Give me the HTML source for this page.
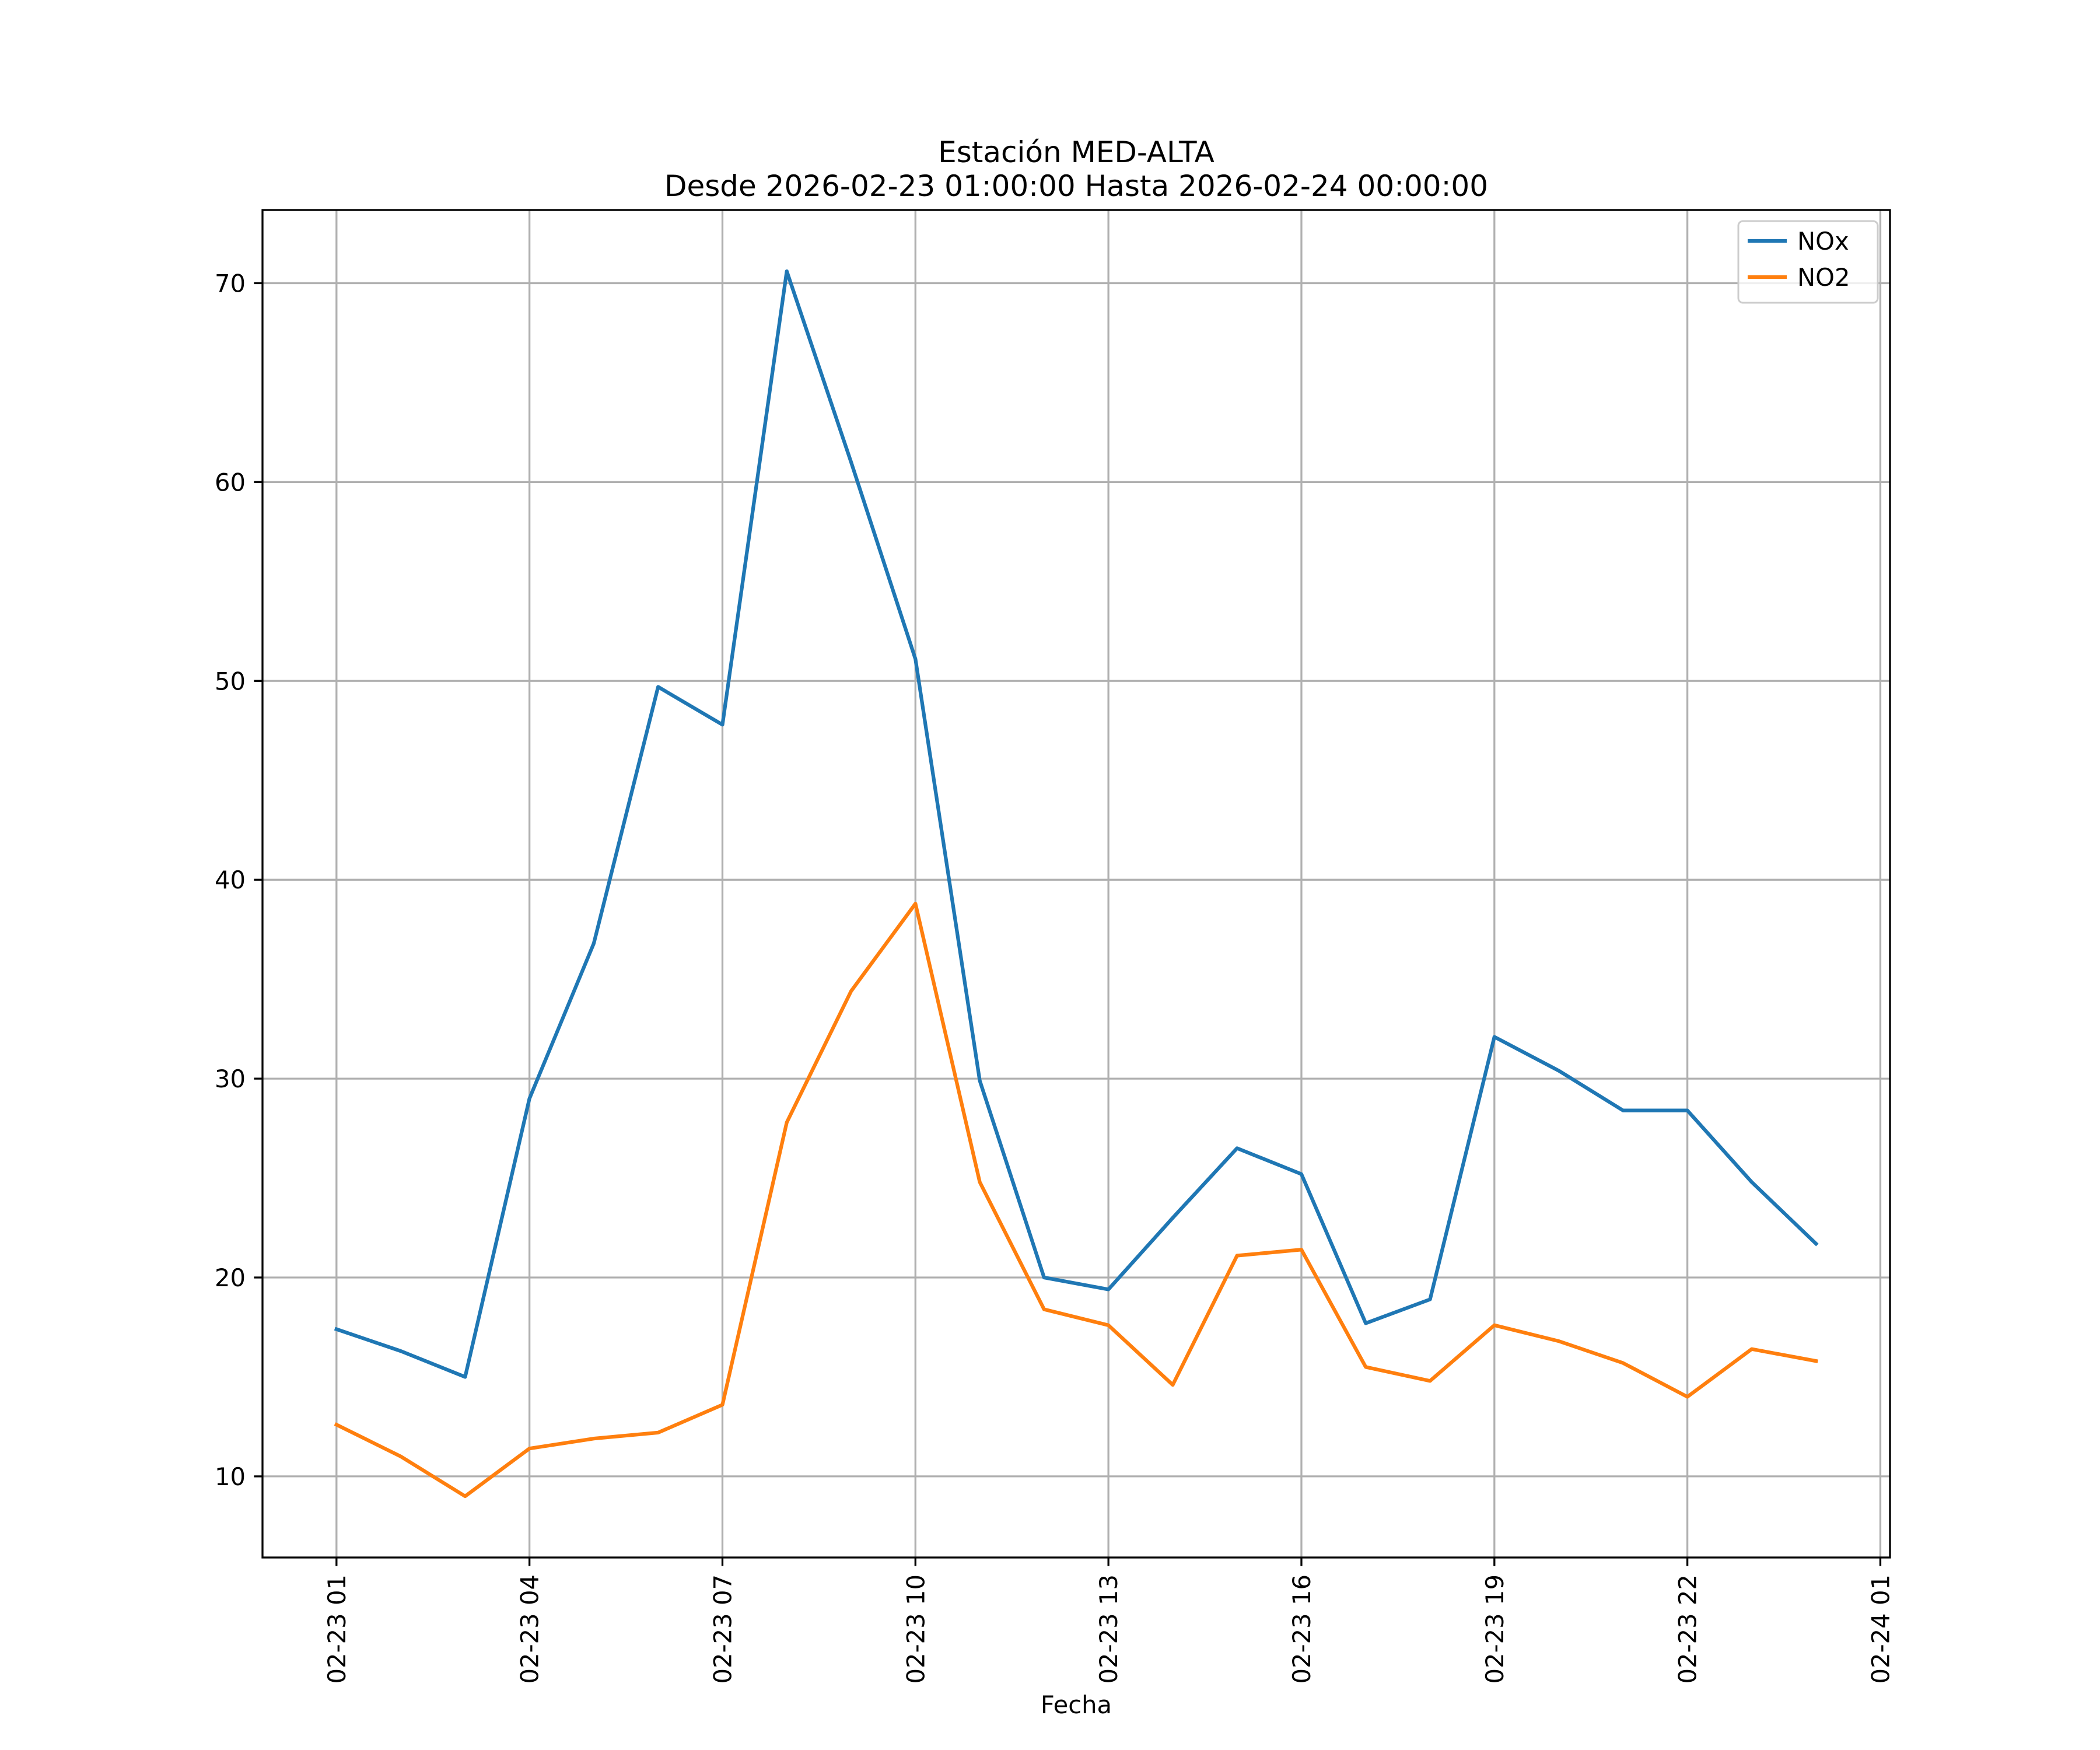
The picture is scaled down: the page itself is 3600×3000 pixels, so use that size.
<!DOCTYPE html>
<html><head><meta charset="utf-8"><style>html,body{margin:0;padding:0;background:#fff}svg{display:block}text{font-family:"DejaVu Sans","Liberation Sans",sans-serif}</style></head>
<body>
<svg id="chart" width="3600" height="3000" viewBox="0 0 3600 3000" xmlns="http://www.w3.org/2000/svg">
<rect width="3600" height="3000" fill="#fff"/>
<text x="1845" y="278" font-size="50" text-anchor="middle">Estación MED-ALTA</text>
<text x="1845" y="336" font-size="50" text-anchor="middle">Desde 2026-02-23 01:00:00 Hasta 2026-02-24 00:00:00</text>
<g id="grid"></g><g id="series"></g><g id="axes"></g>
<text x="1845" y="2937" font-size="41.7" text-anchor="middle">Fecha</text>
<g>
<rect x="2980" y="379" width="239" height="140" rx="8" fill="#fff" fill-opacity="0.8" stroke="#ccc" stroke-width="3"/>
<line x1="2996" y1="413" x2="3063" y2="413" stroke="#1f77b4" stroke-width="6.25"/>
<text x="3081" y="428" font-size="41.7">NOx</text>
<line x1="2996" y1="475" x2="3063" y2="475" stroke="#ff7f0e" stroke-width="6.25"/>
<text x="3081" y="490" font-size="41.7">NO2</text>
</g>
</svg>
<script>
const hours=[1,2,3,4,5,6,7,8,9,10,11,12,13,14,15,16,17,18,19,20,21,22,23,24];
const nox=[17.4,16.3,15.0,29.0,36.8,49.7,47.8,70.6,61.0,51.1,29.9,20.0,19.4,23.0,26.5,25.2,17.7,18.9,32.1,30.4,28.4,28.4,24.8,21.7];
const no2=[12.6,11.0,9.0,11.4,11.9,12.2,13.6,27.8,34.4,38.8,24.8,18.4,17.6,14.6,21.1,21.4,15.5,14.8,17.6,16.8,15.7,14.0,16.4,15.8];
const xTicks=[1,4,7,10,13,16,19,22,25];
const xTickLabels=["02-23 01","02-23 04","02-23 07","02-23 10","02-23 13","02-23 16","02-23 19","02-23 22","02-24 01"];
const yTicks=[10,20,30,40,50,60,70];
const L=450,R=3240,T=360,B=2670;
const xmin=-0.15,xmax=25.15,ymin=5.92,ymax=73.68;
const X=v=>L+(v-xmin)/(xmax-xmin)*(R-L);
const Y=v=>B-(v-ymin)/(ymax-ymin)*(B-T);
const NS="http://www.w3.org/2000/svg";
function mk(tag,attrs,parent){const e=document.createElementNS(NS,tag);for(const k in attrs)e.setAttribute(k,attrs[k]);parent.appendChild(e);return e;}
const grid=document.getElementById('grid'),axes=document.getElementById('axes'),series=document.getElementById('series');
xTicks.forEach((t,i)=>{
  const g=mk('line',{x1:X(t),x2:X(t),y1:T,y2:B,stroke:'#b0b0b0','stroke-width':3.3},grid);
  
  
  const tk=mk('line',{x1:X(t),x2:X(t),y1:B,y2:B+14.6,stroke:'#000','stroke-width':3.3},axes);
  
  
  const tx=mk('text',{x:0,y:0,'font-size':41.7,'text-anchor':'end',transform:`translate(${X(t)+15},${B+29}) rotate(-90)`},axes);
  tx.textContent=xTickLabels[i];
  
  
});
yTicks.forEach(t=>{
  const g=mk('line',{x1:L,x2:R,y1:Y(t),y2:Y(t),stroke:'#b0b0b0','stroke-width':3.3},grid);
  
  
  const tk=mk('line',{x1:L-14.6,x2:L,y1:Y(t),y2:Y(t),stroke:'#000','stroke-width':3.3},axes);
  
  
  const tx=mk('text',{x:L-29,y:Y(t)+15,'font-size':41.7,'text-anchor':'end'},axes);
  tx.textContent=t;
  
  
});
const fr=mk('rect',{x:L,y:T,width:R-L,height:B-T,fill:'none',stroke:'#000','stroke-width':3.3},axes);


function line(vals,color,name){
  const p=mk('polyline',{points:vals.map((v,i)=>X(hours[i])+','+Y(v)).join(' '),fill:'none',stroke:color,'stroke-width':6.25,'stroke-linejoin':'round','stroke-linecap':'square'},series);
  
  
}
line(nox,'#1f77b4','nox-line');
line(no2,'#ff7f0e','no2-line');
</script>
</body></html>
